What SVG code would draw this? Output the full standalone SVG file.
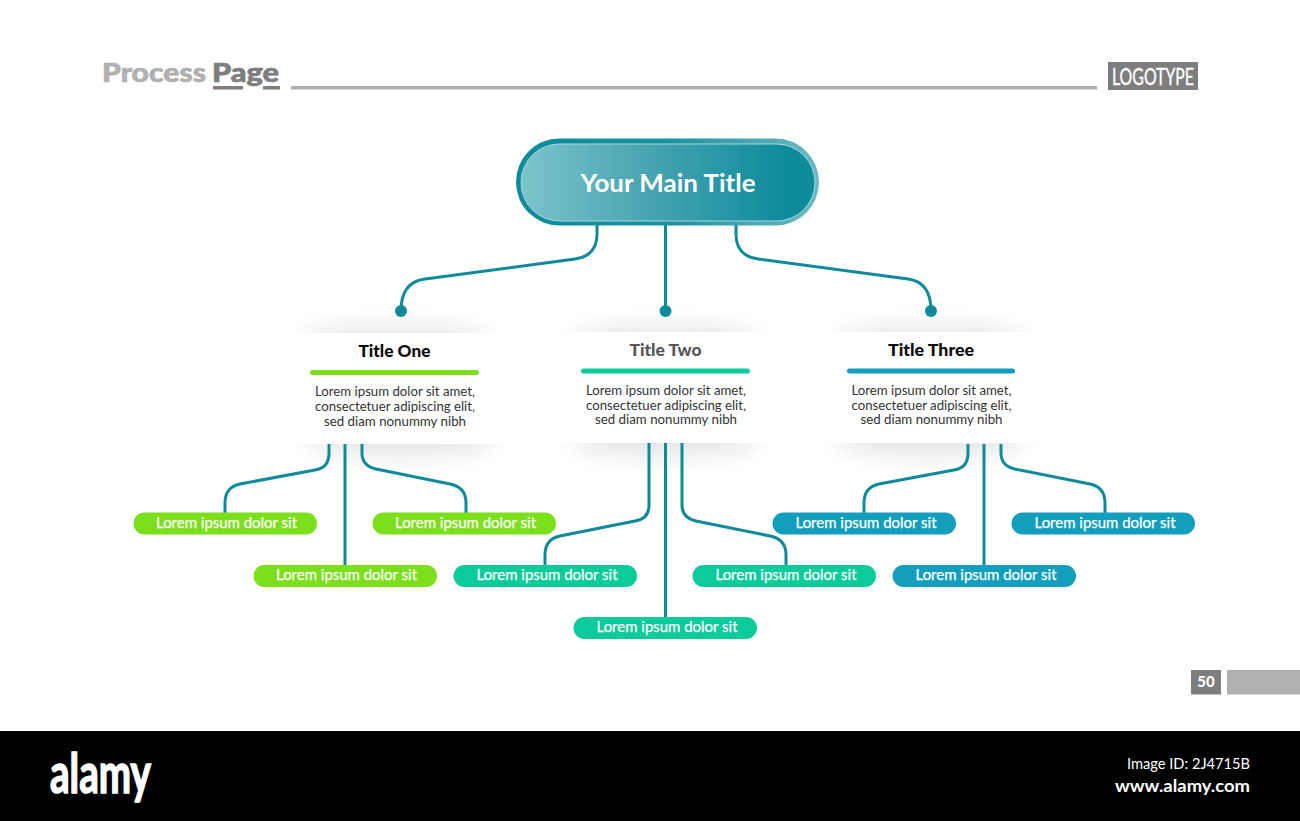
<svg xmlns="http://www.w3.org/2000/svg" width="1300" height="821" viewBox="0 0 1300 821">
<style>
text{font-family:"Lato","Liberation Sans",sans-serif}
.wire{fill:none;stroke:#0e8a9b;stroke-width:3}
.dot{fill:#0e8a9b}
.card{fill:#fff}
.pt{font-size:14.500px;font-weight:400;fill:#fff;stroke:#fff;stroke-width:.25;text-anchor:middle}
.ct{font-size:16px;font-weight:900;fill:#0a0a0a;text-anchor:middle}
.cb{font-size:13.500px;fill:#333;text-anchor:middle}
.g{fill:#7cdf1c}.t{fill:#0bcb9b}.b{fill:#139ebd}
</style>
<defs>
<linearGradient id="mainFill" x1="0" x2="1" y1="0" y2="0"><stop offset="0" stop-color="#7cc4cc"/><stop offset=".45" stop-color="#46a3b0"/><stop offset=".9" stop-color="#0d8b9c"/><stop offset="1" stop-color="#0d8b9c"/></linearGradient>
<linearGradient id="mainRing" x1="0" x2="1" y1="0" y2="0"><stop offset="0" stop-color="#0d8b9c"/><stop offset=".5" stop-color="#1a929f"/><stop offset="1" stop-color="#6cb9c3"/></linearGradient>
<filter id="blur" x="-50%" y="-150%" width="200%" height="400%"><feGaussianBlur stdDeviation="11"/></filter>
</defs>
<rect width="1300" height="821" fill="#fff"/>
<g id="header">
<text x="102" y="82" font-size="27" font-weight="900" fill="#b0b0b0" stroke="#b0b0b0" stroke-width=".7" textLength="104" lengthAdjust="spacingAndGlyphs">Process</text>
<text x="212" y="82" font-size="27" font-weight="900" fill="#7e7e7e" stroke="#7e7e7e" stroke-width=".7" textLength="67" lengthAdjust="spacingAndGlyphs">Page</text>
<rect x="213" y="86" width="30" height="3.500" fill="#7e7e7e"/><rect x="263" y="86" width="17" height="3.500" fill="#7e7e7e"/>
<rect x="291" y="86" width="806" height="3.500" fill="#b0b0b0"/>
<rect x="1108" y="62" width="90" height="28" fill="#7e7e7e"/>
<text x="1153" y="85" font-family="Liberation Sans" font-size="24" fill="#fff" stroke="#fff" stroke-width=".4" text-anchor="middle" textLength="82" lengthAdjust="spacingAndGlyphs">LOGOTYPE</text>
</g>
<g id="shadows" fill="#000" opacity=".1" filter="url(#blur)">
<ellipse cx="395" cy="340" rx="95" ry="14"/><ellipse cx="665" cy="340" rx="95" ry="14"/><ellipse cx="931" cy="340" rx="95" ry="14"/>
<ellipse cx="400" cy="440" rx="95" ry="16"/><ellipse cx="665" cy="440" rx="95" ry="16"/><ellipse cx="931" cy="440" rx="95" ry="16"/>
</g>
<g id="connectors">
<path class="wire" d="M597 224V234Q597 256 575 259L425 279Q401 282 401 311"/>
<path class="wire" d="M665.500 224V311"/>
<path class="wire" d="M736 224V234Q736 256 758 259L908 279Q931 282 931 311"/>
<circle class="dot" cx="401" cy="311" r="6"/><circle class="dot" cx="665.500" cy="311" r="6"/><circle class="dot" cx="931" cy="311" r="6"/>
<path class="wire" d="M329 444V453Q329 468 315 470L240 484Q225 487 225 503V513"/>
<path class="wire" d="M345 444V566"/>
<path class="wire" d="M362 444V453Q362 466 376 469L450 484Q466 487 466 503V513"/>
<path class="wire" d="M649 443V505Q649 519 635 521L560 536Q545 539 545 555V565"/>
<path class="wire" d="M665.500 443V618"/>
<path class="wire" d="M682 443V505Q682 518 696 521L770 536Q786 539 786 555V565"/>
<path class="wire" d="M968 444V453Q968 468 954 470L879 484Q864 487 864 503V513"/>
<path class="wire" d="M984 444V566"/>
<path class="wire" d="M1001 444V453Q1001 466 1015 469L1090 484Q1105 487 1105 503V513"/>
</g>
<g id="main-title">
<rect x="516" y="138.500" width="303" height="87" rx="43.500" fill="url(#mainRing)"/>
<rect x="521" y="144" width="294" height="77" rx="38.500" fill="url(#mainFill)" stroke="#a9d6dc" stroke-width="1"/>
<text x="668" y="192" font-size="24.500" font-weight="700" fill="#fff" text-anchor="middle" textLength="175" lengthAdjust="spacingAndGlyphs">Your Main Title</text>
</g>
<g id="card-one">
<rect class="card" x="285" y="333" width="220" height="111"/>
<text class="ct" x="394.500" y="357" textLength="72" lengthAdjust="spacingAndGlyphs">Title One</text>
<rect class="g" x="310" y="370" width="169" height="5" rx="2.500"/>
<text class="cb" x="395" y="395.500" textLength="160" lengthAdjust="spacingAndGlyphs">Lorem ipsum dolor sit amet,</text>
<text class="cb" x="395" y="410.500" textLength="160" lengthAdjust="spacingAndGlyphs">consectetuer adipiscing elit,</text>
<text class="cb" x="395" y="425.500" textLength="142" lengthAdjust="spacingAndGlyphs">sed diam nonummy nibh</text>
</g>
<g id="card-two">
<rect class="card" x="555" y="332" width="220" height="111"/>
<text class="ct" x="665.500" y="355.500" style="fill:#555" textLength="72" lengthAdjust="spacingAndGlyphs">Title Two</text>
<rect class="t" x="581" y="368.500" width="169" height="5" rx="2.500"/>
<text class="cb" x="666" y="394.500" textLength="160" lengthAdjust="spacingAndGlyphs">Lorem ipsum dolor sit amet,</text>
<text class="cb" x="666" y="409.500" textLength="160" lengthAdjust="spacingAndGlyphs">consectetuer adipiscing elit,</text>
<text class="cb" x="666" y="424" textLength="142" lengthAdjust="spacingAndGlyphs">sed diam nonummy nibh</text>
</g>
<g id="card-three">
<rect class="card" x="821" y="332" width="220" height="111"/>
<text class="ct" x="931" y="355.500" textLength="86" lengthAdjust="spacingAndGlyphs">Title Three</text>
<rect class="b" x="847" y="368.500" width="168" height="5" rx="2.500"/>
<text class="cb" x="931.500" y="394.500" textLength="160" lengthAdjust="spacingAndGlyphs">Lorem ipsum dolor sit amet,</text>
<text class="cb" x="931.500" y="409.500" textLength="160" lengthAdjust="spacingAndGlyphs">consectetuer adipiscing elit,</text>
<text class="cb" x="931.500" y="424" textLength="142" lengthAdjust="spacingAndGlyphs">sed diam nonummy nibh</text>
</g>
<g id="leaf-1"><rect class="g" x="133.500" y="512.500" width="183.500" height="22" rx="11"/><text class="pt" x="226.500" y="528" textLength="141" lengthAdjust="spacingAndGlyphs">Lorem ipsum dolor sit</text></g>
<g id="leaf-2"><rect class="g" x="253.500" y="565" width="183.500" height="22" rx="11"/><text class="pt" x="346.500" y="580" textLength="141" lengthAdjust="spacingAndGlyphs">Lorem ipsum dolor sit</text></g>
<g id="leaf-3"><rect class="g" x="372.500" y="512.500" width="183.500" height="22" rx="11"/><text class="pt" x="465.500" y="528" textLength="141" lengthAdjust="spacingAndGlyphs">Lorem ipsum dolor sit</text></g>
<g id="leaf-4"><rect class="t" x="453.500" y="565" width="183.500" height="22" rx="11"/><text class="pt" x="547" y="580" textLength="141" lengthAdjust="spacingAndGlyphs">Lorem ipsum dolor sit</text></g>
<g id="leaf-5"><rect class="t" x="573.500" y="617" width="183.500" height="22" rx="11"/><text class="pt" x="667" y="632" textLength="141" lengthAdjust="spacingAndGlyphs">Lorem ipsum dolor sit</text></g>
<g id="leaf-6"><rect class="t" x="692.500" y="565" width="183.500" height="22" rx="11"/><text class="pt" x="786" y="580" textLength="141" lengthAdjust="spacingAndGlyphs">Lorem ipsum dolor sit</text></g>
<g id="leaf-7"><rect class="b" x="772.500" y="512.500" width="183.500" height="22" rx="11"/><text class="pt" x="866" y="528" textLength="141" lengthAdjust="spacingAndGlyphs">Lorem ipsum dolor sit</text></g>
<g id="leaf-8"><rect class="b" x="892.500" y="565" width="183.500" height="22" rx="11"/><text class="pt" x="986" y="580" textLength="141" lengthAdjust="spacingAndGlyphs">Lorem ipsum dolor sit</text></g>
<g id="leaf-9"><rect class="b" x="1011.500" y="512.500" width="183.500" height="22" rx="11"/><text class="pt" x="1105" y="528" textLength="141" lengthAdjust="spacingAndGlyphs">Lorem ipsum dolor sit</text></g>
<g id="footer">
<rect x="1191" y="670" width="30" height="24.500" fill="#7e7e7e"/>
<text x="1206" y="687" font-size="15" font-weight="900" fill="#fff" text-anchor="middle">50</text>
<rect x="1227" y="670" width="73" height="24.500" fill="#b0b0b0"/>
</g>
<g id="watermark-bar">
<rect x="0" y="731" width="1300" height="90" fill="#000"/>
<text x="50" y="793" font-family="Liberation Sans" font-size="56" font-weight="700" fill="#fff" stroke="#fff" stroke-width="1.600" textLength="101" lengthAdjust="spacingAndGlyphs">alamy</text>
<text x="1250" y="769" font-family="Open Sans" font-size="15" fill="#fff" text-anchor="end" textLength="123" lengthAdjust="spacingAndGlyphs">Image ID: 2J4715B</text>
<text x="1250" y="792" font-family="Open Sans" font-size="17" font-weight="700" fill="#fff" text-anchor="end" textLength="135" lengthAdjust="spacingAndGlyphs">www.alamy.com</text>
</g>
</svg>
